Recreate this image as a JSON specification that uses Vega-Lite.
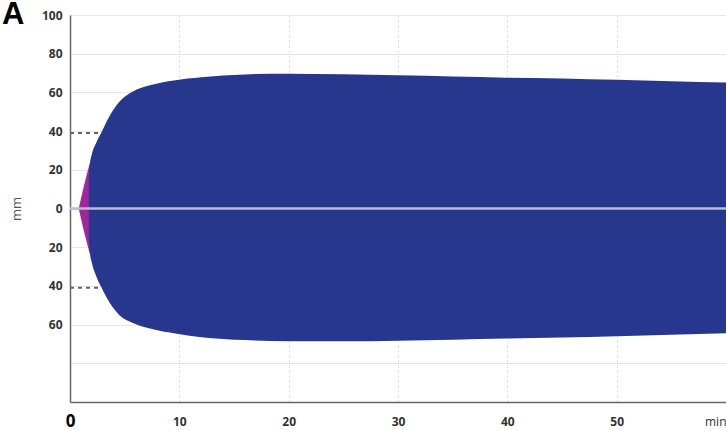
{
  "$schema": "https://vega.github.io/schema/vega-lite/v6.json",
  "autosize": {"type": "none"},
  "width": 656,
  "height": 387,
  "padding": {"left": 70, "top": 15, "right": 0, "bottom": 28},
  "background": "white",
  "title": {
    "text": "A",
    "anchor": "start",
    "frame": "group",
    "fontSize": 31,
    "fontWeight": "bold",
    "font": "Liberation Sans",
    "color": "#000000",
    "dx": -68,
    "dy": 22,
    "offset": 0
  },
  "config": {
    "view": {"stroke": null},
    "font": "Open Sans",
    "axis": {"labelOverlap": false, "labelBound": false}
  },
  "datasets": {
    "envelope": [
      {"part": "onset", "min": 0.8, "upper": 0, "lower": 0},
      {"part": "onset", "min": 1.2, "upper": 10, "lower": -10},
      {"part": "onset", "min": 1.6, "upper": 19, "lower": -19},
      {"part": "onset", "min": 1.85, "upper": 24, "lower": -24},
      {"part": "main", "min": 1.72, "upper": 15, "lower": -15},
      {"part": "main", "min": 1.8, "upper": 22, "lower": -22},
      {"part": "main", "min": 2.0, "upper": 28, "lower": -28},
      {"part": "main", "min": 2.4, "upper": 34, "lower": -35},
      {"part": "main", "min": 2.85, "upper": 39, "lower": -40.5},
      {"part": "main", "min": 3.6, "upper": 47.5, "lower": -48.5},
      {"part": "main", "min": 4.5, "upper": 55, "lower": -55},
      {"part": "main", "min": 5.7, "upper": 60.3, "lower": -59},
      {"part": "main", "min": 7.5, "upper": 64, "lower": -62.3},
      {"part": "main", "min": 9.5, "upper": 66.2, "lower": -64.5},
      {"part": "main", "min": 12, "upper": 67.8, "lower": -66.5},
      {"part": "main", "min": 16, "upper": 69.3, "lower": -68},
      {"part": "main", "min": 20, "upper": 69.7, "lower": -68.6},
      {"part": "main", "min": 25, "upper": 69.4, "lower": -68.6},
      {"part": "main", "min": 30, "upper": 68.8, "lower": -68.3},
      {"part": "main", "min": 35, "upper": 68.2, "lower": -67.8},
      {"part": "main", "min": 40, "upper": 67.6, "lower": -67.2},
      {"part": "main", "min": 45, "upper": 67.2, "lower": -66.7},
      {"part": "main", "min": 50, "upper": 66.5, "lower": -66},
      {"part": "main", "min": 55, "upper": 65.8, "lower": -65.3},
      {"part": "main", "min": 60, "upper": 65.1, "lower": -64.5}
    ],
    "refs": [
      {"kind": "dash", "min": 0, "to": 4, "upper": 39},
      {"kind": "dash", "min": 0, "to": 4, "upper": -41},
      {"kind": "center", "min": 0, "to": 60, "upper": 0}
    ]
  },
  "encoding": {
    "x": {
      "field": "min",
      "type": "quantitative",
      "scale": {"domain": [0, 60], "nice": false},
      "axis": {
        "values": [0, 10, 20, 30, 40, 50, 60],
        "title": null,
        "ticks": false,
        "domainColor": "#666666",
        "domainWidth": 1.5,
        "grid": true,
        "gridColor": {"condition": {"test": "datum.value == 0 || datum.value == 60", "value": "transparent"}, "value": "#d8d8d8"},
        "gridDash": [2, 3],
        "gridWidth": 1,
        "labelPadding": 19,
        "labelBaseline": "middle",
        "labelFont": "Open Sans",
        "labelFontSize": {"condition": {"test": "datum.value == 0", "value": 17}, "value": 12},
        "labelFontWeight": {"condition": {"test": "datum.value == 60", "value": "normal"}, "value": "bold"},
        "labelColor": {"condition": {"test": "datum.value == 0", "value": "#000000"}, "value": "#333333"},
        "labelAlign": {"condition": {"test": "datum.value == 60", "value": "right"}, "value": "center"},
        "labelExpr": "datum.value == 60 ? 'min' : datum.label",
        "labelOverlap": false
      }
    },
    "y": {
      "field": "upper",
      "type": "quantitative",
      "scale": {"domain": [-100, 100], "nice": false},
      "axis": {
        "values": [-100, -80, -60, -40, -20, 0, 20, 40, 60, 80, 100],
        "title": "mm",
        "titleFontWeight": "normal",
        "titleFontSize": 13,
        "titleColor": "#555555",
        "titlePadding": 18,
        "ticks": false,
        "domainColor": "#666666",
        "domainWidth": 1.5,
        "grid": true,
        "gridColor": "#e6e6e6",
        "gridWidth": 1,
        "labelPadding": 8,
        "labelFont": "Open Sans",
        "labelFontSize": 12,
        "labelFontWeight": "bold",
        "labelColor": "#333333",
        "labelExpr": "datum.value < -70 ? '' : format(abs(datum.value), 'd')",
        "labelOverlap": false
      }
    }
  },
  "layer": [
    {
      "data": {"name": "refs"},
      "transform": [{"filter": "datum.kind == 'dash'"}],
      "mark": {"type": "rule", "color": "#666666", "strokeWidth": 2, "strokeDash": [4, 4]},
      "encoding": {"x2": {"field": "to"}}
    },
    {
      "data": {"name": "envelope"},
      "transform": [{"filter": "datum.part == 'onset'"}],
      "mark": {"type": "area", "color": "#a3259c", "interpolate": "monotone"},
      "encoding": {"y2": {"field": "lower"}}
    },
    {
      "data": {"name": "envelope"},
      "transform": [{"filter": "datum.part == 'main'"}],
      "mark": {"type": "area", "color": "#27378e", "interpolate": "monotone"},
      "encoding": {"y2": {"field": "lower"}}
    },
    {
      "data": {"name": "refs"},
      "transform": [{"filter": "datum.kind == 'center'"}],
      "mark": {"type": "rule", "color": "#b9bdd9", "strokeWidth": 2.5},
      "encoding": {"x2": {"field": "to"}}
    }
  ]
}
